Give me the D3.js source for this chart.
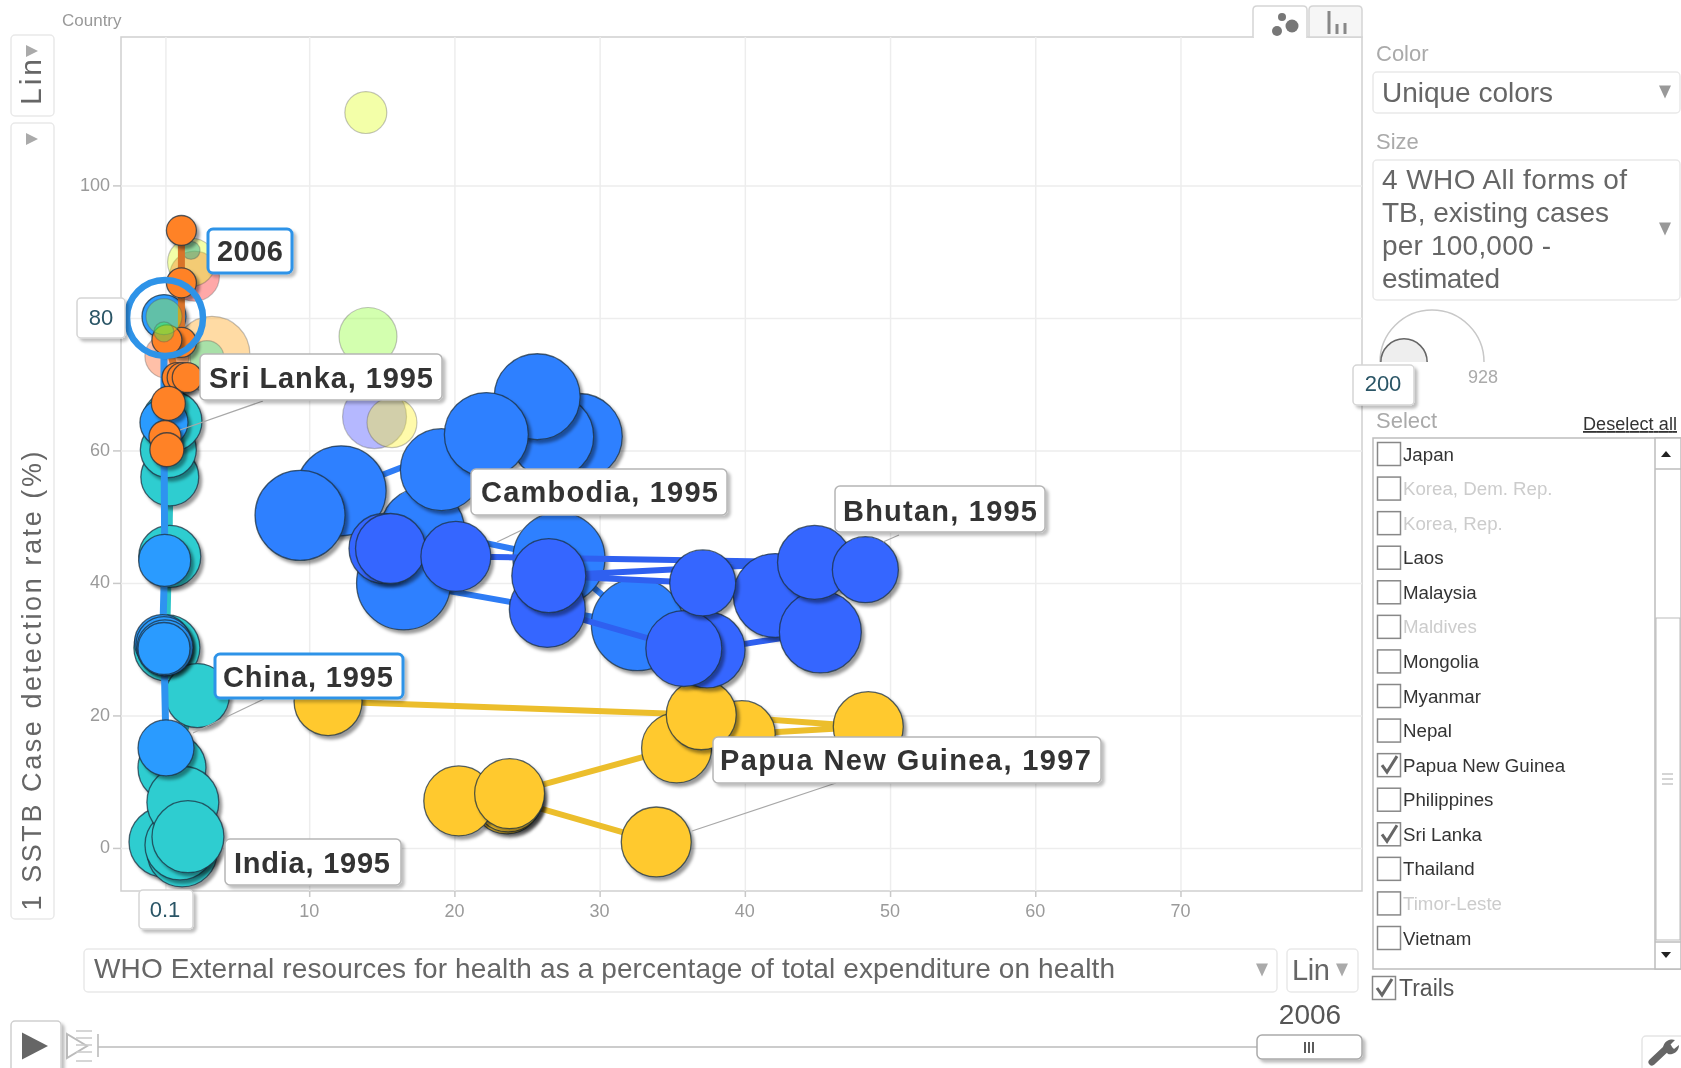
<!DOCTYPE html>
<html><head><meta charset="utf-8">
<script src="https://cdn.jsdelivr.net/npm/d3@7"></script>
<style>
html,body{margin:0;padding:0;background:#fff;overflow:hidden}
svg{display:block;filter:blur(0.5px)}
text{font-family:"Liberation Sans",Arial,sans-serif}
</style></head><body>
<svg id="c" width="1681" height="1068"></svg>
<script>
// ---- axis ticks
const xTickValues=[0.1,10,20,30,40,50,60,70];
const yTickValues=[0,20,40,60,80,100];
// ---- selected series, in drawing order
const pngX=[33.9,23.6,23.7,20.3,23.8,35.3,39.8,48.5,37.0,11.3];
const pngY=[0.9,7.4,7.7,7.1,8.2,15.1,17.2,18.3,20.1,22.1];
const pngS=[420,420,420,420,420,420,380,420,420,397];
const indiaX=[0.4,0.4,0.3,0.55,0.2,2.3,0.55,0,1.25,1.1,1.3,1.65];
const indiaY=[44.0,56.0,60.1,64.4,30.2,23.0,12.1,0.9,-0.6,0.45,6.9,1.7];
const indiaS=[330,288,269,309,374,351,397,420,420,420,444,444];
const chinaX=[0,0,0.05,-0.1,0,0.07,0,0.14];
const chinaY=[80.2,64.2,43.4,31.0,30.7,30.2,30.1,15.1];
const chinaS=[166,198,232,269,269,269,232,269];
const sriX=[1.2,1.2,1.2,0.2,0.9,1.25,1.6,0.3,0.07,0.2];
const sriY=[93.2,85.3,76.3,76.7,71.0,71.0,71.0,67.1,62.1,60.1];
const sriS=[77,77,77,77,77,77,77,99,88,99];
const cambX=[17.8,27.2,32.6,16.5,19.1,28.6,26.7,25.7,22.2,12.2,9.37];
const cambY=[48.0,43.7,33.7,40.0,57.1,62.1,62.1,68.1,62.4,53.9,50.2];
const cambS=[605,726,726,758,577,634,605,634,605,695,695];
const bhuX=[42.1,45.2,37.4,35.8,26.4,37.1,26.5,15.15,15.6,20.1,44.8,48.3];
const bhuY=[38.1,32.6,29.9,30.1,36.0,40.0,41.1,45.2,45.2,44.0,43.1,42.0];
const bhuS=[605,577,495,495,495,374,470,420,420,420,470,374];
const bhuTrail=[0,1,2,3,4,6,5,6,10,11,10,9,8,7];
// ---- unselected countries (faded)
const fadeX=[13.9,14.05,14.5,15.7,3.3,2.96,0.2,2.1,1.9,1.86];
const fadeY=[111.0,77.2,65.1,64.2,74.5,74.0,74.2,86.3,88.4,90.2];
const fadeS=[151,288,351,214,495,99,166,214,198,28];
const fadeC=["#e1ff25","#91ff37","#464dff","#fff22a","#ffa51b","#25e8af","#ff6125","#ff2525","#e1ff25","#009a90"];
const frontX=[0,0];
const frontY=[80.2,77.9];
const frontS=[111,34];
const frontC=["#b4f725","#25f15f"];
// ---- panel text
const countries=["Japan","Korea, Dem. Rep.","Korea, Rep.","Laos","Malaysia","Maldives","Mongolia","Myanmar","Nepal","Papua New Guinea","Philippines","Sri Lanka","Thailand","Timor-Leste","Vietnam"];
const dimmed=["Korea, Dem. Rep.","Korea, Rep.","Maldives","Timor-Leste"];
const checked=["Papua New Guinea","Sri Lanka"];
const sizeLines=["4 WHO All forms of","TB, existing cases","per 100,000 -","estimated"];

const L=121,R=1362,T=37,B=891;
const x=d3.scaleLinear().domain([-2.96,82.5]).range([L,R]);
const y=d3.scaleLinear().domain([-6.5,122.4]).range([B,T]);
const r=d3.scaleSqrt().domain([0,928]).range([0,52]);
const svg=d3.select("#c");
const defs=svg.append("defs");
const f=defs.append("filter").attr("id","sh").attr("x","-30%").attr("y","-30%").attr("width","170%").attr("height","170%");
f.append("feDropShadow").attr("dx",3).attr("dy",3.5).attr("stdDeviation",1.6).attr("flood-color","#000").attr("flood-opacity",0.4);
const f2=defs.append("filter").attr("id","sh2").attr("x","-20%").attr("y","-20%").attr("width","140%").attr("height","150%");
f2.append("feDropShadow").attr("dx",3).attr("dy",3).attr("stdDeviation",1.5).attr("flood-color","#000").attr("flood-opacity",0.25);

function rrect(g,x0,y0,x1,y1,o={}){
  return g.append("rect").attr("x",x0).attr("y",y0).attr("width",x1-x0).attr("height",y1-y0)
   .attr("rx",o.rx??4).attr("fill",o.fill??"#fff").attr("stroke",o.stroke??"#e9e9e9").attr("stroke-width",o.sw??1.5)
   .attr("filter",o.shadow?"url(#sh2)":null);
}
function txt(g,s,px,py,size,col,o={}){
  const t=g.append("text").attr("x",px).attr("y",py).attr("font-size",size).attr("fill",col).text(s);
  if(o.anchor)t.attr("text-anchor",o.anchor);
  if(o.w){t.attr("textLength",o.w).attr("lengthAdjust","spacing");}
  if(o.bold)t.attr("font-weight","bold");
  if(o.td)t.attr("text-decoration",o.td);
  return t;
}
function tri(g,cx,cy,w,h,col,dir="down"){
  const p=dir=="down"?[[cx-w/2,cy-h/2],[cx+w/2,cy-h/2],[cx,cy+h/2]]
        :dir=="up"?[[cx-w/2,cy+h/2],[cx+w/2,cy+h/2],[cx,cy-h/2]]
        :[[cx-w/2,cy-h/2],[cx+w/2,cy],[cx-w/2,cy+h/2]];
  g.append("path").attr("d",d3.line()(p)+"Z").attr("fill",col);
}

// ---- plot frame, grid and axes
const plot=svg.append("g");
plot.append("rect").attr("x",L).attr("y",T).attr("width",R-L).attr("height",B-T).attr("fill","#fff").attr("stroke","#cfcfcf").attr("stroke-width",1.5);
const gx=plot.append("g").attr("transform",`translate(0,${B})`).call(d3.axisBottom(x).tickValues(xTickValues).tickSize(-(B-T)).tickPadding(0).tickFormat(()=>""));
const gy=plot.append("g").attr("transform",`translate(${L},0)`).call(d3.axisLeft(y).tickValues(yTickValues).tickSize(-(R-L)).tickFormat(()=>""));
[gx,gy].forEach(a=>{a.select(".domain").remove();a.selectAll("line").attr("stroke","#ededed").attr("stroke-width",1.5);});
// the 0.1 and 80 ticks are labelled by the highlighted read-out boxes
const gx2=plot.append("g").attr("transform",`translate(0,${B})`).call(d3.axisBottom(x).tickValues(xTickValues).tickSize(6).tickPadding(7).tickFormat(v=>v===0.1?"":d3.format("~g")(v)));
const gy2=plot.append("g").attr("transform",`translate(${L},0)`).call(d3.axisLeft(y).tickValues(yTickValues).tickSize(8).tickPadding(3).tickFormat(v=>v===80?"":String(v)));
[gx2,gy2].forEach(a=>{a.select(".domain").remove();a.selectAll("line").attr("stroke","#c8c8c8").attr("stroke-width",1.5);
 a.selectAll("text").attr("font-size",18).attr("fill","#9a9a9a").attr("font-family",'"Liberation Sans",Arial,sans-serif');});
gx2.selectAll("text").attr("dx",-0.5);
gy2.selectAll("text").attr("dy","0.27em");

// ---- faded countries
const pts=(X,Y,S,C)=>X.map((v,i)=>({x:v,y:Y[i],s:S[i],c:C?C[i]:null}));
const marks=svg.append("g");
function faded(X,Y,S,C){
  marks.append("g").selectAll("circle").data(pts(X,Y,S,C)).join("circle")
   .attr("cx",d=>x(d.x)).attr("cy",d=>y(d.y)).attr("r",d=>r(d.s))
   .attr("fill",d=>d.c).attr("fill-opacity",0.4)
   .attr("stroke","#555").attr("stroke-opacity",0.35).attr("stroke-width",1.2);
}
// ---- selected series with trail
const line=d3.line().x(d=>x(d.x)).y(d=>y(d.y));
function series(X,Y,S,fill,trail,tw,order){
  const d=pts(X,Y,S);
  const g=marks.append("g");
  g.append("path").attr("d",line(order?order.map(i=>d[i]):d)).attr("fill","none").attr("stroke",trail).attr("stroke-width",tw).attr("stroke-linejoin","round");
  g.selectAll("circle").data(d).join("circle")
   .attr("cx",p=>x(p.x)).attr("cy",p=>y(p.y)).attr("r",p=>r(p.s))
   .attr("fill",fill).attr("stroke","#1c3040").attr("stroke-opacity",0.75).attr("stroke-width",1.3)
   .attr("filter","url(#sh)");
}
series(pngX,pngY,pngS,"#ffc92e","#ecbe2c",6);
faded(fadeX,fadeY,fadeS,fadeC);
series(indiaX,indiaY,indiaS,"#2dcdd0","#2dc4c8",6);
series(chinaX,chinaY,chinaS,"#2b9bff","#2e93f0",7);
series(sriX,sriY,sriS,"#ff8228","#d9742a",7);
series(cambX,cambY,cambS,"#2e80ff","#2e7cf5",6);
series(bhuX,bhuY,bhuS,"#3566ff","#2f60f0",6,bhuTrail);
faded(frontX,frontY,frontS,frontC);

// ---- leader lines and labels
const ann=svg.append("g");
[[263,401,180,430],[522,530,497,542],[899,535,883,542],[836,783,692,831],[264,699,193,733]].forEach(a=>{
  ann.append("line").attr("x1",a[0]).attr("y1",a[1]).attr("x2",a[2]).attr("y2",a[3]).attr("stroke","#a8a8a8").attr("stroke-width",1.2);
});
function label(s,x0,y0,x1,y1,tx,tw,by,hot){
  rrect(ann,x0,y0,x1,y1,{stroke:hot?"#2e93e8":"#b5b5b5",sw:hot?3:1.5,shadow:true,rx:5});
  txt(ann,s,tx,by,29,"#333",{bold:true,w:tw});
}
label("2006",208,229,292,273,217,66,261,true);
label("Sri Lanka, 1995",200,354,442,400,209,224,388,false);
label("Cambodia, 1995",471,469,727,515,481,237,502,false);
label("Bhutan, 1995",835,486,1045,532,843,194,521,false);
label("China, 1995",215,654,403,698,223,170,687,true);
label("Papua New Guinea, 1997",713,737,1101,783,720,371,770,false);
label("India, 1995",225,839,401,885,234,156,873,false);

// highlight ring and axis readouts
ann.append("circle").attr("cx",165).attr("cy",y(80)).attr("r",38).attr("fill","none").attr("stroke","#2e93e8").attr("stroke-width",6.5);
rrect(ann,77,298,125,338,{stroke:"#d5d5d5",shadow:true});
txt(ann,"80",101,325,22,"#2a5566",{anchor:"middle"});
rrect(ann,139,890,193,929,{stroke:"#d5d5d5",shadow:true});
txt(ann,"0.1",165,917,22,"#2a5566",{anchor:"middle"});

// ---- tabs
const ui=svg.append("g");
ui.append("rect").attr("x",1254).attr("y",35).attr("width",52).attr("height",4).attr("fill","#fff");
ui.append("path").attr("d","M1253 37V10q0-4 4-4h46q4 0 4 4V37").attr("fill","#fff").attr("stroke","#d5d5d5").attr("stroke-width",1.5);
ui.append("path").attr("d","M1309 37V10q0-4 4-4h45q4 0 4 4V37Z").attr("fill","#f6f6f6").attr("stroke","#d5d5d5").attr("stroke-width",1.5);
[[1282,17,4],[1277,31,5],[1292,26,6.5]].forEach(c=>ui.append("circle").attr("cx",c[0]).attr("cy",c[1]).attr("r",c[2]).attr("fill","#777"));
[[1329,11],[1337,24],[1345,23]].forEach(b=>ui.append("rect").attr("x",b[0]-1.5).attr("y",b[1]).attr("width",3).attr("height",34-b[1]).attr("fill","#888"));
txt(ui,"Country",62,26,17,"#999");

// ---- left axis chooser
rrect(ui,11,35,54,116);
rrect(ui,11,123,54,919);
tri(ui,32,51,12,12,"#aaa","right");
tri(ui,32,139,12,12,"#aaa","right");
const rot=(s,cy,w,size)=>ui.append("text").attr("transform",`translate(41,${cy}) rotate(-90)`).attr("text-anchor","middle")
  .attr("font-size",size).attr("fill","#666").attr("textLength",w).attr("lengthAdjust","spacing").text(s);
rot("Lin",82,46,30);
rot("1 SSTB Case detection rate (%)",681,459,27);

// ---- bottom axis chooser
rrect(ui,84,949,1277,992);
txt(ui,"WHO External resources for health as a percentage of total expenditure on health",94,978,28,"#666",{w:1021});
tri(ui,1262,970,12,13,"#aaa");
rrect(ui,1287,949,1358,992);
txt(ui,"Lin",1292,980,29,"#666",{w:38});
tri(ui,1342,970,12,13,"#aaa");

// ---- timeline
rrect(ui,11,1021,61,1080,{stroke:"#cfcfcf",shadow:true});
tri(ui,35,1046,26,27,"#666","right");
ui.append("path").attr("d","M67 1034l20 12-20 12Z").attr("fill","#fff").attr("stroke","#bbb").attr("stroke-width",2);
[1031,1038,1045,1052,1061].forEach(v=>ui.append("line").attr("x1",76).attr("x2",92).attr("y1",v).attr("y2",v).attr("stroke","#ccc").attr("stroke-width",1.6));
ui.append("line").attr("x1",98).attr("x2",98).attr("y1",1034).attr("y2",1057).attr("stroke","#bbb").attr("stroke-width",1.6);
ui.append("line").attr("x1",98).attr("x2",1258).attr("y1",1047).attr("y2",1047).attr("stroke","#bbb").attr("stroke-width",1.6);
rrect(ui,1257,1035,1362,1059,{stroke:"#aaa",shadow:true,rx:5});
[1305,1309,1313].forEach(v=>ui.append("line").attr("x1",v).attr("x2",v).attr("y1",1042).attr("y2",1053).attr("stroke","#333").attr("stroke-width",1.6));
txt(ui,"2006",1310,1024,28,"#555",{anchor:"middle"});

// ---- wrench
rrect(ui,1642,1036,1690,1075,{stroke:"#e5e5e5"});
ui.append("path").attr("d","M1652 1062L1668 1047").attr("stroke","#666").attr("stroke-width",7).attr("stroke-linecap","round");
ui.append("path").attr("d","M1663 1048a9 9 0 0 1 12-8l-5 5 4 4 5-4a9 9 0 0 1-11 9Z").attr("fill","#666");

// ---- right panel
txt(ui,"Color",1376,61,22,"#aaa");
rrect(ui,1373,72,1680,113);
txt(ui,"Unique colors",1382,102,28,"#666",{w:171});
tri(ui,1665,92,12,13,"#999");
txt(ui,"Size",1376,149,22,"#aaa");
rrect(ui,1373,160,1680,300);
const sw=[245,227,169,118];
sizeLines.forEach((s,i)=>txt(ui,s,1382,189+i*33,28,"#666",{w:sw[i]}));
tri(ui,1665,229,12,13,"#999");
const arc=d3.arc();
const half=(cx,cy,rad,fill,stroke)=>{
  ui.append("path").attr("transform",`translate(${cx},${cy})`).attr("d",arc({innerRadius:0,outerRadius:rad,startAngle:-Math.PI/2,endAngle:Math.PI/2})).attr("fill",fill);
  ui.append("path").attr("transform",`translate(${cx},${cy})`).attr("d",`M${-rad} 0A${rad} ${rad} 0 0 1 ${rad} 0`).attr("fill","none").attr("stroke",stroke).attr("stroke-width",1.5);
};
half(1432,362,r(928),"none","#c8c8c8");
half(1404,362,r(200)-1,"#eee","#666");
rrect(ui,1353,365,1414,405,{stroke:"#d5d5d5",shadow:true});
txt(ui,"200",1383,391,22,"#2a5566",{anchor:"middle"});
txt(ui,"928",1483,383,18,"#aaa",{anchor:"middle"});
txt(ui,"Select",1376,428,22,"#aaa");
txt(ui,"Deselect all",1583,430,18,"#333",{td:"underline",w:94});

// ---- country list
ui.append("rect").attr("x",1373).attr("y",438).attr("width",308).attr("height",531).attr("fill","#fff").attr("stroke","#bdbdbd").attr("stroke-width",1.5);
const listY=d3.scalePoint().domain(countries).range([454,938]);
function check(cx,cy,on){
  ui.append("rect").attr("x",cx-11.5).attr("y",cy-11.5).attr("width",23).attr("height",23).attr("fill","#fff").attr("stroke","#888").attr("stroke-width",1.5);
  if(on)ui.append("path").attr("d",`M${cx-7} ${cy}l5 7l10-16`).attr("fill","none").attr("stroke","#666").attr("stroke-width",3);
}
countries.forEach(c=>{
  const cy=listY(c);
  check(1389,cy,checked.includes(c));
  txt(ui,c,1403,cy+6.5,18.7,dimmed.includes(c)?"#ccc":"#333");
});
ui.append("rect").attr("x",1655).attr("y",438).attr("width",26).attr("height",531).attr("fill","#fff").attr("stroke","#bdbdbd").attr("stroke-width",1.5);
ui.append("line").attr("x1",1655).attr("x2",1681).attr("y1",469).attr("y2",469).attr("stroke","#bdbdbd").attr("stroke-width",1.5);
ui.append("line").attr("x1",1655).attr("x2",1681).attr("y1",942).attr("y2",942).attr("stroke","#bdbdbd").attr("stroke-width",1.5);
ui.append("rect").attr("x",1656).attr("y",618).attr("width",24).attr("height",322).attr("fill","#fff").attr("stroke","#bbb");
[774,779,784].forEach(v=>ui.append("line").attr("x1",1662).attr("x2",1673).attr("y1",v).attr("y2",v).attr("stroke","#aaa"));
tri(ui,1666,454,10,6,"#222","up");
tri(ui,1666,955,10,6,"#222","down");
check(1384,988,true);
txt(ui,"Trails",1399,996,23,"#555");
</script>
</body></html>
